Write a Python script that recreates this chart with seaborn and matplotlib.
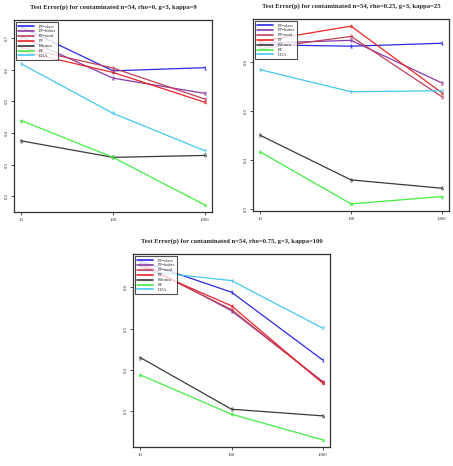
import seaborn as sns
import pandas as pd
import numpy as np
import matplotlib.pyplot as plt

# sample sizes on x axis
n_train = [10, 100, 1000]
methods = ['PP\u2212class', 'PP\u2212huber', 'PP\u2212mod', 'PP', 'RSimca', 'RF', 'DDA']
colors = ['#2a2ae0', '#8a3aa8', '#c0405a', '#e82828', '#3a3a3a', '#44ee44', '#44c8f0']

# panel 1: rho=0, kappa=9
p1_class = [0.734, 0.596, 0.606]
p1_huber = [0.703, 0.573, 0.525]
p1_mod = [0.670, 0.605, 0.507]
p1_pp = [0.658, 0.591, 0.497]
p1_rsimca = [0.375, 0.323, 0.329]
p1_rf = [0.439, 0.323, 0.173]
p1_dda = [0.618, 0.462, 0.344]

# panel 2: rho=0.25, kappa=25
p2_class = [0.635, 0.632, 0.638]
p2_huber = [0.638, 0.644, 0.557]
p2_mod = [0.627, 0.652, 0.529]
p2_pp = [0.642, 0.673, 0.537]
p2_rsimca = [0.450, 0.359, 0.342]
p2_rf = [0.416, 0.310, 0.325]
p2_dda = [0.584, 0.539, 0.541]

# panel 3: rho=0.75, kappa=100
p3_class = [0.663, 0.588, 0.424]
p3_huber = [0.660, 0.543, 0.372]
p3_mod = [0.655, 0.546, 0.370]
p3_pp = [0.651, 0.555, 0.368]
p3_rsimca = [0.430, 0.305, 0.289]
p3_rf = [0.388, 0.293, 0.231]
p3_dda = [0.640, 0.616, 0.501]

panels = [
    ('Test Error(p) for contaminated n=54, rho=0, g=3, kappa=9',
     [p1_class, p1_huber, p1_mod, p1_pp, p1_rsimca, p1_rf, p1_dda]),
    ('Test Error(p) for contaminated n=54, rho=0.25, g=3, kappa=25',
     [p2_class, p2_huber, p2_mod, p2_pp, p2_rsimca, p2_rf, p2_dda]),
    ('Test Error(p) for contaminated n=54, rho=0.75, g=3, kappa=100',
     [p3_class, p3_huber, p3_mod, p3_pp, p3_rsimca, p3_rf, p3_dda]),
]

sns.set_style("ticks")
plt.rcParams['font.family'] = ['Liberation Serif', 'DejaVu Serif']

W, H = 453, 466
fig = plt.figure(figsize=(W / 100, H / 100), dpi=100)
# axes boxes in pixels: left, top, right, bottom
boxes = [(14, 20, 212, 212), (253, 19, 449, 211), (133, 254, 330, 447)]

for (title, series), (l, t, r, b) in zip(panels, boxes):
    ax = fig.add_axes([l / W, 1 - b / H, (r - l) / W, (b - t) / H])
    rows = []
    for m, vals in zip(methods, series):
        for n, v in zip(n_train, vals):
            rows.append({'n': n, 'err': v, 'method': m})
    df = pd.DataFrame(rows)
    sns.lineplot(data=df, x='n', y='err', hue='method', hue_order=methods,
                 palette=colors, linewidth=0.9, ax=ax, legend=False)
    # numbered point symbols like R's pch
    for i, (m, vals) in enumerate(zip(methods, series)):
        ax.scatter(n_train, vals, marker=f'${i + 1}$', s=6, color=colors[i],
                   linewidths=0.2, zorder=3)
    ax.set_xscale('log')
    ax.set_xlim(10 ** 0.92, 10 ** 3.08)
    allv = np.concatenate(series)
    lo, hi = allv.min(), allv.max()
    ext = (hi - lo) * 0.04
    ax.set_ylim(lo - ext, hi + ext)
    ax.set_xticks(n_train)
    ax.set_xticklabels([str(n) for n in n_train])
    ax.minorticks_off()
    ax.yaxis.set_major_locator(plt.MultipleLocator(0.1))
    ax.tick_params(labelsize=3.5, length=2, width=0.6, pad=2, colors='#333333')
    for lab in ax.get_yticklabels():
        lab.set_rotation(90)
        lab.set_va('center')
    ax.set_xlabel('')
    ax.set_ylabel('')
    for sp in ax.spines.values():
        sp.set_linewidth(0.9)
        sp.set_color('#333333')
    ax.set_title(title, fontsize=4.8, fontweight='bold', pad=8)
    handles = [plt.Line2D([], [], color=c, lw=1.2) for c in colors]
    leg = ax.legend(handles, methods, loc='upper left', fontsize=3.2,
                    frameon=True, fancybox=False, handlelength=3.6,
                    handletextpad=0.9, labelspacing=0.18, borderpad=0.5,
                    borderaxespad=0.5)
    leg.get_frame().set_edgecolor('#222222')
    leg.get_frame().set_linewidth(0.8)

fig.savefig('out.png', dpi=100)
